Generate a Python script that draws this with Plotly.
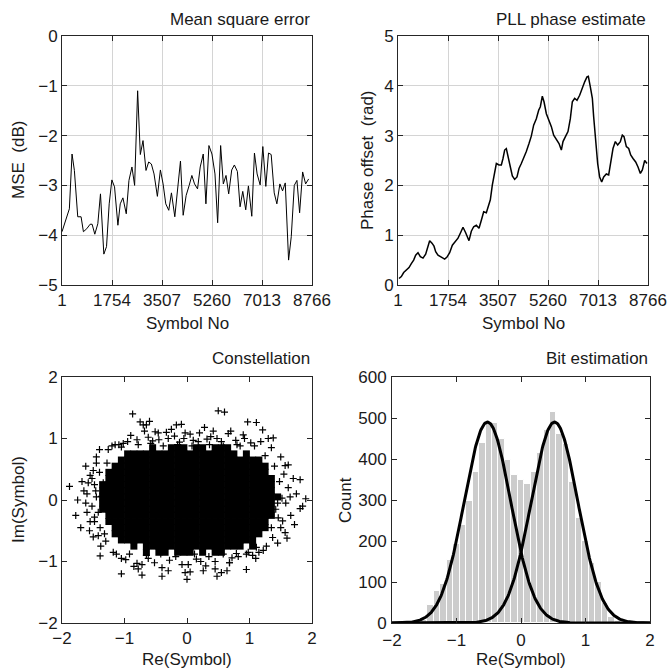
import plotly.graph_objects as go
import numpy as np

W, H = 669, 670
FONT = "Liberation Sans, Arial, Helvetica, sans-serif"
FS = 17

# ---------------- data ----------------
mse_x = [1, 142, 259, 353, 435, 553, 670, 752, 869, 987, 1057, 1151, 1257, 1350, 1468, 1562, 1656, 1749,
         1843, 1961, 2043, 2137, 2254, 2348, 2453, 2547, 2653, 2747, 2841, 2946, 3040, 3134, 3228, 3345,
         3451, 3545, 3639, 3744, 3838, 3956, 4049, 4155, 4249, 4354, 4460, 4554, 4648, 4753, 4847, 4953,
         5047, 5152, 5258, 5364, 5458, 5563, 5657, 5751, 5845, 5951, 6045, 6150, 6244, 6338, 6443, 6537,
         6655, 6748, 6842, 6948, 7042, 7147, 7241, 7335, 7441, 7534, 7640, 7734, 7828, 7945, 8039, 8145,
         8238, 8332, 8438, 8543, 8649]
mse_db = [-3.93, -3.67, -3.47, -2.37, -2.70, -3.63, -3.63, -3.93, -3.87, -3.78, -3.78, -3.98, -3.77, -3.17,
          -4.38, -4.23, -3.37, -2.89, -3.03, -3.80, -3.37, -3.25, -3.57, -2.90, -2.63, -3.00, -1.10, -2.38,
          -2.10, -2.70, -2.53, -2.57, -2.77, -3.22, -2.69, -2.97, -3.37, -3.50, -3.15, -3.63, -3.03, -2.51,
          -3.60, -3.20, -3.00, -2.80, -2.97, -3.07, -2.63, -2.37, -3.37, -2.20, -2.37, -2.77, -3.75, -2.20,
          -2.97, -2.80, -3.17, -2.69, -2.59, -2.72, -3.43, -3.12, -3.49, -3.01, -3.62, -2.35, -2.77, -2.99,
          -2.22, -3.02, -2.35, -2.38, -3.15, -3.37, -2.97, -3.11, -2.95, -4.50, -4.03, -3.00, -2.90, -3.55,
          -2.73, -2.97, -2.87]

phase_x = [36, 118, 200, 293, 387, 468, 550, 620, 702, 784, 878, 971, 1053, 1111, 1193, 1263, 1322, 1403,
           1520, 1637, 1719, 1812, 1906, 1999, 2105, 2186, 2280, 2373, 2490, 2572, 2654, 2747, 2841, 2923,
           3005, 3098, 3192, 3238, 3309, 3390, 3449, 3542, 3624, 3682, 3741, 3799, 3858, 3940, 4010, 4091,
           4173, 4243, 4325, 4407, 4500, 4594, 4675, 4757, 4851, 4933, 4991, 5061, 5120, 5202, 5295, 5378,
           5459, 5553, 5646, 5728, 5786, 5880, 5961, 6043, 6113, 6195, 6277, 6370, 6464, 6546, 6627, 6674,
           6744, 6815, 6861, 6931, 7001, 7071, 7142, 7212, 7305, 7387, 7469, 7539, 7621, 7703, 7796, 7866,
           7925, 8007, 8089, 8159, 8241, 8334, 8416, 8498, 8568, 8650, 8731]
phase_rad = [0.13, 0.17, 0.25, 0.31, 0.35, 0.43, 0.50, 0.60, 0.65, 0.57, 0.54, 0.62, 0.77, 0.89, 0.84, 0.78,
             0.67, 0.60, 0.56, 0.52, 0.56, 0.65, 0.80, 0.87, 0.94, 1.04, 1.16, 1.05, 0.89, 1.08, 1.17, 1.20,
             1.14, 1.30, 1.47, 1.45, 1.61, 1.71, 2.01, 2.24, 2.44, 2.41, 2.41, 2.54, 2.71, 2.74, 2.61, 2.37,
             2.19, 2.12, 2.17, 2.34, 2.44, 2.54, 2.68, 2.84, 2.99, 3.21, 3.34, 3.51, 3.58, 3.79, 3.68, 3.44,
             3.32, 3.18, 3.01, 2.91, 2.84, 2.71, 2.88, 2.99, 3.08, 3.34, 3.68, 3.75, 3.71, 3.81, 3.97, 4.08,
             4.18, 4.19, 3.98, 3.75, 3.38, 2.91, 2.44, 2.17, 2.07, 2.17, 2.23, 2.21, 2.47, 2.74, 2.88, 2.81,
             2.88, 3.01, 2.98, 2.78, 2.74, 2.61, 2.54, 2.47, 2.37, 2.24, 2.31, 2.50, 2.44]

symbol_ticks = [1, 1754, 3507, 5260, 7013, 8766]

# constellation: dense core cells (x centres -1.95..1.95 step 0.1, y centres 1.45..-1.45 step 0.1)
core_mask = [
    "........................................",  # 1.45
    "........................................",  # 1.35
    "........................................",  # 1.25
    "........................................",  # 1.15
    "........................................",  # 1.05
    "........................................",  # 0.95
    "..............#..###.##.###.............",  # 0.85
    "..........##################.#..........",  # 0.75
    ".........#######################........",  # 0.65
    "........#########################.......",  # 0.55
    ".......##########################.......",  # 0.45
    ".......###########################......",  # 0.35
    "......############################......",  # 0.25
    "......############################......",  # 0.15
    "......#############################.....",  # 0.05
    "......############################......",  # -0.05
    "......############################......",  # -0.15
    ".......###########################......",  # -0.25
    ".......##########################.......",  # -0.35
    "........#########################.......",  # -0.45
    "........########################........",  # -0.55
    ".........######################.........",  # -0.65
    "...........#.################.#.........",  # -0.75
    ".............#.##.###.#.##..............",  # -0.85
    "........................................",
    "........................................",
    "........................................",
    "........................................",
    "........................................",
    "........................................",
]
sparse_re = [-0.87, 0.50, 0.60, -0.75, -0.60, -0.70, -0.65, -0.17, -0.09, 0.97, 1.11, 1.21, 0.42, 0.66, 0.90,
             0.20, -0.33, -0.51, -0.46, -0.03, 0.05, 1.38, 1.30, -1.15, -1.09, -1.26, 1.57, 1.62, 1.81, 1.75,
             1.81, 1.57, 1.53, 1.52, 1.42, 1.46, 1.37, 1.27, 1.11, 0.95, 0.95, 0.79, 0.64, 0.55, 0.48, 0.26,
             0.05, -0.03, 0.00, -0.40, -0.72, -1.05, -0.80, -0.72, -1.13, -1.39, -1.30, -1.39, -1.37, -1.34,
             -1.28, -1.55, -1.65, -1.88, -1.60, -1.70, -1.50, -1.45, -1.75, -1.55, -1.62, -1.48, -1.52, 1.85,
             1.90,
             -0.95, -0.80, -0.55, -0.30, -0.12, 0.10, 0.32, 0.55, 0.78, 1.02, -1.05, -0.62, -0.20, 0.38, 0.85,
             1.25, 1.40, 1.48, 1.45, 1.35, -1.40, -1.46, -1.42, -1.32, -1.48, -0.98, -0.62, -0.28, 0.15, 0.45,
             0.72, 1.05, -0.85, -0.40, 0.02, 0.30, 0.68, 1.15,
             -1.20, -1.02, -0.90, -0.78, -0.68, -0.58, -0.45, -0.38, -0.25, -0.15, -0.05, 0.08, 0.18, 0.28,
             0.36, 0.48, 0.58, 0.70, 0.80, 0.92, 1.08, 1.18,
             -1.18, -1.05, -0.92, -0.78, -0.65, -0.52, -0.42, -0.30, -0.18, -0.08, 0.12, 0.22, 0.35, 0.45,
             0.58, 0.68, 0.82, 0.98, 1.10, 1.22,
             -1.45, -1.50, -1.58, -1.45, -1.62, -1.48, -1.60, -1.42, -1.38, -1.52, -1.68, -1.56, -1.78, -1.40,
             1.50, 1.55, 1.62, 1.58, 1.66, 1.50, 1.45, 1.70, 1.65, 1.60, 1.72, 1.35]
sparse_im = [1.40, 1.45, 1.43, 1.27, 1.28, 1.22, 1.22, 1.22, 1.23, 1.27, 1.26, 1.14, 1.12, 1.08, 1.06,
             1.09, 1.10, 1.11, 1.09, 1.09, 1.07, 1.01, 1.00, 0.90, 0.90, 0.82, 0.56, 0.57, 0.33, 0.10,
             -0.14, -0.53, -0.34, 0.03, -0.15, -0.29, -0.61, -0.75, -0.77, -0.88, -1.13, -0.87, -1.15, -1.18,
             -1.24, -1.15, -1.17, -1.18, -1.29, -1.24, -1.22, -1.20, -1.03, -1.05, -0.88, -0.91, -0.67, -0.45,
             0.06, 0.28, 0.60, 0.40, 0.15, 0.22, -0.20, -0.45, -0.60, 0.60, 0.00, -0.35, 0.55, 0.25, -0.10,
             -0.10, 0.02,
             0.95, 0.98, 0.96, 1.00, 0.94, 0.97, 0.99, 0.95, 0.97, 0.93, 0.86, 1.02, 1.04, 1.03, 0.88,
             0.72, 0.55, 0.30, -0.05, -0.45, 0.45, 0.15, -0.20, -0.55, -0.35, -0.97, -0.95, -0.98, -0.96, -1.00,
             -0.94, -0.90, -1.08, -1.10, -1.05, -1.07, -1.02, -0.85,
             0.88, 0.92, 1.05, 0.90, 1.12, 0.92, 0.98, 0.88, 1.15, 0.90, 1.00, 0.88, 0.95, 1.18,
             0.90, 1.00, 0.88, 1.12, 0.90, 1.00, 0.88, 0.95,
             -0.85, -0.95, -0.88, -1.12, -0.90, -1.02, -0.88, -1.15, -0.92, -1.05, -0.88, -1.00, -0.92, -1.12,
             -0.88, -1.02, -0.92, -0.85, -0.95, -0.82,
             0.70, 0.48, 0.28, 0.05, -0.05, -0.28, 0.10, -0.58, -0.75, 0.35, 0.30, -0.50, -0.25, 0.82,
             0.70, 0.42, 0.20, -0.05, -0.25, -0.45, -0.70, 0.35, 0.05, -0.62, -0.40, 0.85]

# histogram of Re(Symbol)
bin_centres = [-1.7, -1.6, -1.5, -1.4, -1.3, -1.2, -1.1, -1.0, -0.9, -0.8, -0.7, -0.6, -0.5, -0.4, -0.3,
               -0.2, -0.1, 0.0, 0.1, 0.2, 0.3, 0.4, 0.5, 0.6, 0.7, 0.8, 0.9, 1.0, 1.1, 1.2, 1.3, 1.4,
               1.5, 1.6]
bin_counts = [2, 4, 7, 44, 78, 96, 153, 192, 240, 298, 369, 440, 489, 489, 450, 398, 361, 348, 339, 369,
              414, 470, 515, 462, 436, 345, 256, 200, 147, 99, 48, 14, 5, 2]
bin_width = 0.1

# fitted Gaussian bit models (mean, std, peak count)
fit_means = [-0.52, 0.52]
fit_std = 0.36
fit_peak = 490

# ---------------- figure ----------------
fig = go.Figure()

fig.add_trace(go.Scatter(x=mse_x, y=mse_db, mode="lines", line=dict(color="black", width=1),
                         xaxis="x", yaxis="y", showlegend=False))
fig.add_trace(go.Scatter(x=phase_x, y=phase_rad, mode="lines", line=dict(color="black", width=1.5),
                         xaxis="x2", yaxis="y2", showlegend=False))

core_x, core_y = [], []
for r, row in enumerate(core_mask):
    for c, ch in enumerate(row):
        if ch == "#":
            core_x.append(-1.95 + 0.1 * c)
            core_y.append(1.45 - 0.1 * r)
fig.add_trace(go.Scatter(x=core_x, y=core_y, mode="markers",
                         marker=dict(symbol="square", size=7, color="black", line=dict(width=0)),
                         xaxis="x3", yaxis="y3", showlegend=False))
fig.add_trace(go.Scatter(x=sparse_re, y=sparse_im, mode="markers",
                         marker=dict(symbol="cross-thin", size=5, line=dict(color="black", width=1.2)),
                         xaxis="x3", yaxis="y3", showlegend=False))

fig.add_trace(go.Bar(x=bin_centres, y=bin_counts, width=bin_width,
                     marker=dict(color="#cccccc", line=dict(color="white", width=1)),
                     xaxis="x4", yaxis="y4", showlegend=False))
xs = np.linspace(-2, 2, 401)
for m in fit_means:
    fig.add_trace(go.Scatter(x=xs, y=fit_peak * np.exp(-(xs - m) ** 2 / (2 * fit_std ** 2)), mode="lines",
                             line=dict(color="black", width=3), xaxis="x4", yaxis="y4",
                             showlegend=False))


def ax(domain, rng, tickvals, grid, anchor, standoff=0):
    return dict(domain=domain, range=rng, tickvals=tickvals, showline=True, mirror="ticks",
                linecolor="#262626", linewidth=1, ticks="inside", ticklen=5, tickcolor="#262626",
                tickfont=dict(family=FONT, size=FS, color="#1a1a1a"), zeroline=False,
                showgrid=grid, gridcolor="#d4d4d4", gridwidth=1, anchor=anchor, automargin=False,
                ticklabelstandoff=standoff)


def px(v):
    return v / W


def py(v):
    return 1 - v / H


xl_dom = [px(62), px(312)]
xr_dom = [px(398), px(648)]
xbr_dom = [px(392), px(650)]
top_dom = [py(285), py(36)]
bot_dom = [py(623), py(377)]

fig.update_layout(
    width=W, height=H, margin=dict(l=0, r=0, t=0, b=0),
    paper_bgcolor="white", plot_bgcolor="white",
    xaxis=ax(xl_dom, [1, 8766], symbol_ticks, True, "y"),
    yaxis=ax(top_dom, [-5, 0], [-5, -4, -3, -2, -1, 0], True, "x"),
    xaxis2=ax(xr_dom, [1, 8766], symbol_ticks, True, "y2"),
    yaxis2=ax(top_dom, [0, 5], [0, 1, 2, 3, 4, 5], True, "x2"),
    xaxis3=ax(xl_dom, [-2, 2], [-2, -1, 0, 1, 2], False, "y3"),
    yaxis3=ax(bot_dom, [-2, 2], [-2, -1, 0, 1, 2], False, "x3"),
    xaxis4=ax(xbr_dom, [-2, 2], [-2, -1, 0, 1, 2], False, "y4", standoff=2),
    yaxis4=ax(bot_dom, [0, 600], [0, 100, 200, 300, 400, 500, 600], False, "x4", standoff=1),
    bargap=0,
)

texts = [
    ("Mean square error", px(312), py(19), "right", 0),
    ("PLL phase estimate", px(648), py(19), "right", 0),
    ("Constellation", px(312), py(358), "right", 0),
    ("Bit estimation", px(650), py(358), "right", 0),
    ("Symbol No", px(187), py(323), "center", 0),
    ("Symbol No", px(523), py(323), "center", 0),
    ("Re(Symbol)", px(187), py(659), "center", 0),
    ("Re(Symbol)", px(521), py(659), "center", 0),
    ("MSE  (dB)", px(18), py(160), "center", -90),
    ("Phase offset  (rad)", px(367), py(160), "center", -90),
    ("Im(Symbol)", px(18), py(500), "center", -90),
    ("Count", px(345), py(500), "center", -90),
]
for t, x, y, xa, ang in texts:
    fig.add_annotation(text=t, x=x, y=y, xref="paper", yref="paper", xanchor=xa, yanchor="middle",
                       showarrow=False, textangle=ang, font=dict(family=FONT, size=FS, color="#1a1a1a"))

fig.write_html("out.html", config={"displayModeBar": False},
               post_script="document.body.style.margin='0';document.body.style.overflow='hidden';")
